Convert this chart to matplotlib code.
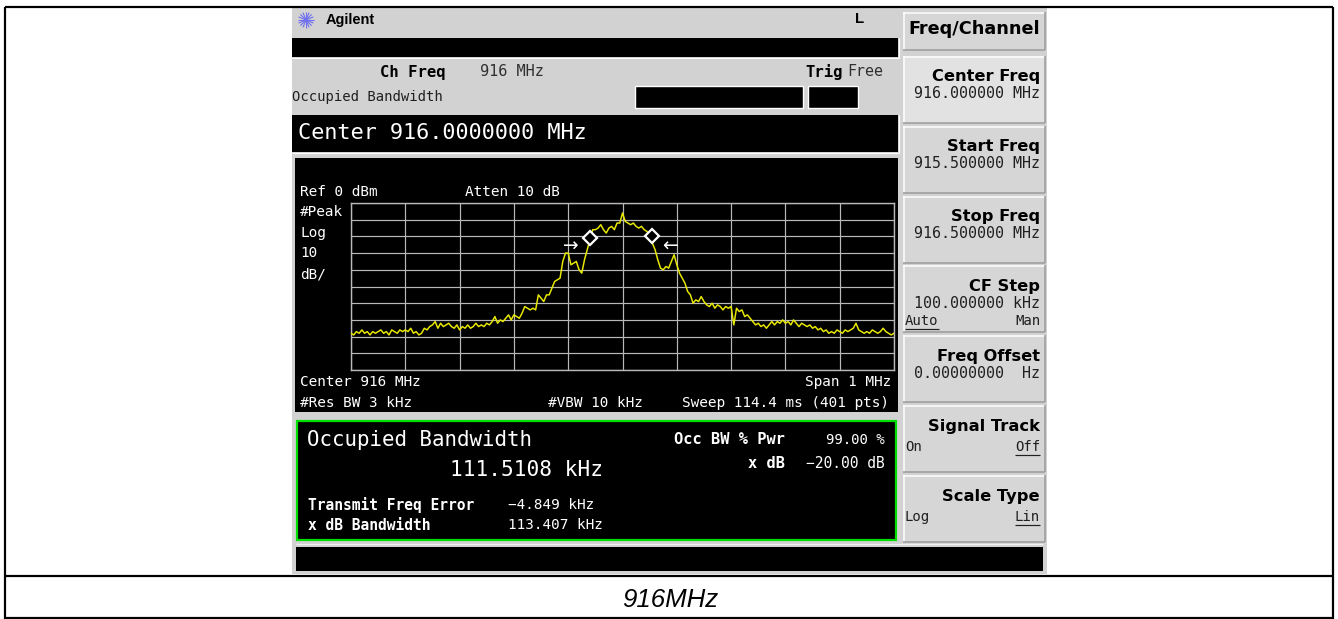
import numpy as np
import matplotlib
matplotlib.use("Agg")
import matplotlib.pyplot as plt
from matplotlib.patches import Rectangle

# ---------------- data ----------------
center_mhz = 916.0
span_mhz = 1.0
ref_dbm = 0
db_per_div = 10
n_div = 10

# trace (dBm), evenly swept from start to stop freq
trace_dbm = [
    -78, -79, -77, -78, -76, -78, -77, -79, -77, -78,
    -77, -76, -78, -77, -79, -76, -77, -78, -76, -77,
    -76, -77, -75, -78, -77, -79, -78, -75, -76, -74,
    -73, -71, -75, -72, -74, -73, -72, -74, -75, -73,
    -76, -74, -75, -73, -75, -74, -72, -74, -73, -74,
    -72, -73, -71, -68, -72, -70, -71, -69, -67, -70,
    -67, -68, -69, -66, -62, -63, -64, -63, -64, -55,
    -57, -59, -55, -55, -51, -47, -46, -45, -35, -30,
    -30, -37, -36, -35, -40, -42, -34, -28, -22, -16,
    -16, -15, -13, -16, -18, -15, -14, -16, -12, -12,
    -6, -11, -12, -13, -12, -14, -15, -14, -16, -17,
    -20, -24, -28, -34, -39, -40, -38, -39, -35, -31,
    -37, -42, -45, -48, -53, -55, -60, -58, -59, -56,
    -59, -61, -62, -60, -63, -61, -62, -64, -62, -63,
    -62, -73, -63, -65, -64, -68, -67, -69, -71, -73,
    -72, -74, -73, -75, -73, -71, -73, -71, -72, -70,
    -72, -71, -73, -70, -72, -74, -72, -73, -74, -73,
    -75, -74, -76, -75, -77, -76, -78, -77, -78, -76,
    -77, -78, -76, -77, -76, -75, -72, -76, -77, -78,
    -77, -78, -76, -77, -78, -77, -75, -77, -78, -79,
    -78,
]
marker_freqs = [915.9405, 916.0539]
marker_levels = [-21, -20]
arrow_freqs = [915.905, 916.087]
arrow_level = -26

softkey_titles = ["Center Freq", "Start Freq", "Stop Freq", "CF Step",
                  "Freq Offset", "Signal Track", "Scale Type"]
softkey_values = ["916.000000 MHz", "915.500000 MHz", "916.500000 MHz",
                  "100.000000 kHz", "0.00000000  Hz", None, None]
softkey_options = [None, None, None, ("Auto", "Man", 0), None,
                   ("On", "Off", 1), ("Log", "Lin", 1)]

occ_bw_text = "111.5108 kHz"
freq_err_text = "\u22124.849 kHz"
xdb_bw_text = "113.407 kHz"
occ_pwr_text = "99.00 %"
xdb_text = "\u221220.00 dB"
caption = "916MHz"

# ---------------- figure ----------------
W, H = 1338, 619
fig = plt.figure(figsize=(W / 100, H / 100), dpi=100, facecolor="white")
bg = fig.add_axes([0, 0, 1, 1])
bg.set_xlim(0, W)
bg.set_ylim(H, 0)
bg.axis("off")

PX = 0.72  # points per pixel
MONO = "DejaVu Sans Mono"
SANS = "DejaVu Sans"
ARIAL = "Liberation Sans"


def rect(x0, y0, x1, y1, fc, ec="none", lw=0.0, z=1):
    bg.add_patch(Rectangle((x0, y0), x1 - x0, y1 - y0, facecolor=fc,
                           edgecolor=ec, linewidth=lw, zorder=z))


def line(x0, y0, x1, y1, color, lw=1.0, z=2):
    bg.plot([x0, x1], [y0, y1], color=color, lw=lw * PX,
            solid_capstyle="butt", zorder=z)


def txt(x, y, s, size_px, color="black", ha="left", family=MONO,
        weight="normal", style="normal", z=5):
    bg.text(x, y, s, fontsize=size_px * PX, color=color, ha=ha, va="center",
            family=family, fontweight=weight, fontstyle=style, zorder=z)


# outer table frame
line(5.3, 6.5, 1333.3, 6.5, "black", 2.2)
line(5.3, 6.5, 5.3, 619, "black", 2.2)
line(1333.3, 6.5, 1333.3, 619, "black", 2.2)
line(5.3, 575.5, 1333.3, 575.5, "black", 2.2)
line(5.3, 617.5, 1333.3, 617.5, "black", 2.2)

# screenshot background
rect(292, 7.6, 1047, 574.4, "#d2d2d2", z=0.5)

# header
cx, cy = 306, 20
for ang in np.linspace(0, np.pi, 8, endpoint=False):
    dx, dy = 8 * np.cos(ang), 8 * np.sin(ang)
    line(cx - dx, cy - dy, cx + dx, cy + dy, "#6f6ff0", 1.1)
txt(326, 20, "Agilent", 14.5, family=ARIAL, weight="bold")
txt(860, 19, "L", 15, family=ARIAL, weight="bold", ha="center")

rect(292, 38, 898, 57, "black")
line(292, 57.6, 899, 57.6, "white", 1.2)
line(898.6, 38, 898.6, 58, "white", 1.2)

txt(380, 72, "Ch Freq", 15.6, weight="bold")
txt(480, 72, "916 MHz", 15.3, color="#303030")
txt(805, 72, "Trig", 15.6, weight="bold")
txt(847, 72, "Free", 15.0, color="#303030")
txt(292, 97, "Occupied Bandwidth", 13.9, color="#202020")
rect(635, 86, 803, 108, "black", ec="white", lw=1.0)
rect(808, 86, 858, 108, "black", ec="white", lw=1.0)

rect(292, 115, 898, 152, "black")
line(292, 152.6, 899, 152.6, "white", 1.2)
line(898.6, 115, 898.6, 153, "white", 1.2)
txt(298, 133, "Center 916.0000000 MHz", 21.9, color="white")

# instrument screen
rect(295, 158, 898, 412, "black")
scr = 14.4
txt(300, 192, "Ref 0 dBm", scr, color="white")
txt(465, 192, "Atten 10 dB", scr, color="white")
for yy, s in zip([212, 233, 253, 274], ["#Peak", "Log", "10", "dB/"]):
    txt(300, yy, s, scr, color="white")
txt(300, 382, "Center 916 MHz", scr, color="white")
txt(300, 403, "#Res BW 3 kHz", scr, color="white")
txt(548, 403, "#VBW 10 kHz", scr, color="white")
txt(891, 382, "Span 1 MHz", scr, color="white", ha="right")
txt(889, 403, "Sweep 114.4 ms (401 pts)", scr, color="white", ha="right")

# graticule with trace
gx0, gx1, gy0, gy1 = 351, 894, 203, 370
ax = fig.add_axes([gx0 / W, 1 - gy1 / H, (gx1 - gx0) / W, (gy1 - gy0) / H])
f_start = center_mhz - span_mhz / 2
f_stop = center_mhz + span_mhz / 2
bottom_dbm = ref_dbm - db_per_div * n_div
freqs = np.linspace(f_start, f_stop, len(trace_dbm))
ax.set_facecolor("black")
ax.set_xlim(f_start, f_stop)
ax.set_ylim(bottom_dbm, ref_dbm)
ax.set_xticks(np.linspace(f_start, f_stop, n_div + 1))
ax.set_yticks(np.linspace(bottom_dbm, ref_dbm, n_div + 1))
ax.grid(True, color="#b8b8b8", lw=1.2 * PX)
ax.tick_params(length=0, labelbottom=False, labelleft=False)
for sp in ax.spines.values():
    sp.set_color("#b8b8b8")
    sp.set_linewidth(1.4 * PX)
ax.plot(freqs, trace_dbm, color="#e8e800", lw=1.5 * PX, zorder=3)
ax.plot(marker_freqs, marker_levels, "D", mfc="black", mec="white",
        ms=7, mew=1.6, zorder=4)
ax.text(arrow_freqs[0], arrow_level, "\u2192", color="white", ha="center",
        va="center", fontsize=13.5, family=SANS, zorder=5)
ax.text(arrow_freqs[1], arrow_level, "\u2190", color="white", ha="center",
        va="center", fontsize=13.5, family=SANS, zorder=5)

# results box
rect(297, 421, 896, 540, "black", ec="#00e000", lw=2.2 * PX)
txt(307, 440, "Occupied Bandwidth", 20.8, color="white")
txt(603, 470, occ_bw_text, 21.2, color="white", ha="right")
txt(308, 505, "Transmit Freq Error", 14.6, color="white", weight="bold")
txt(308, 525, "x dB Bandwidth", 14.6, color="white", weight="bold")
txt(508, 505, freq_err_text, 14.4, color="white")
txt(508, 525, xdb_bw_text, 14.4, color="white")
txt(785, 440, "Occ BW % Pwr", 15.4, color="white", weight="bold", ha="right")
txt(785, 463, "x dB", 15.4, color="white", weight="bold", ha="right")
txt(885, 440, occ_pwr_text, 14.0, color="white", ha="right")
txt(885, 463, xdb_text, 14.6, color="white", ha="right")

# bottom status bar
rect(296, 547, 1043, 571, "black")
line(296, 544, 1043, 544, "#f0f0f0", 1.2)


# softkeys
def key(y0, y1, fc):
    rect(903, y0, 1045, y1, fc)
    line(903, y0 + 0.5, 1045, y0 + 0.5, "white", 1.5)
    line(903.5, y0, 903.5, y1, "white", 1.5)
    line(903, y1 - 0.5, 1045, y1 - 0.5, "#9a9a9a", 1.5)
    line(1044.5, y0, 1044.5, y1, "#9a9a9a", 1.5)


key(12, 50, "#d6d6d6")
txt(1040, 29, "Freq/Channel", 17.6, family=SANS, weight="bold", ha="right")

key_tops = [56, 126, 196, 265, 335, 405, 475]
for i, top in enumerate(key_tops):
    key(top, top + 67, "#e2e2e2" if i == 0 else "#d6d6d6")
    txt(1040, top + 21, softkey_titles[i], 16.3, family=SANS,
        weight="bold", ha="right")
    if softkey_values[i]:
        txt(1040, top + 38, softkey_values[i], 15.0, color="#202020",
            ha="right")
    opt = softkey_options[i]
    if opt:
        oy = top + (56 if softkey_values[i] else 42)
        a, b, sel = opt
        txt(905, oy, a, 14.0, color="#202020")
        txt(1040, oy, b, 14.0, color="#202020", ha="right")
        wpx = 14.0 * 0.602
        if sel == 0:
            line(905, oy + 8, 905 + wpx * len(a), oy + 8, "#202020", 1.2)
        else:
            line(1040 - wpx * len(b), oy + 8, 1040, oy + 8, "#202020", 1.2)

# caption
txt(670, 600, caption, 25.9, family=ARIAL, style="italic", ha="center")

fig.savefig("out.png", dpi=100, facecolor="white")
